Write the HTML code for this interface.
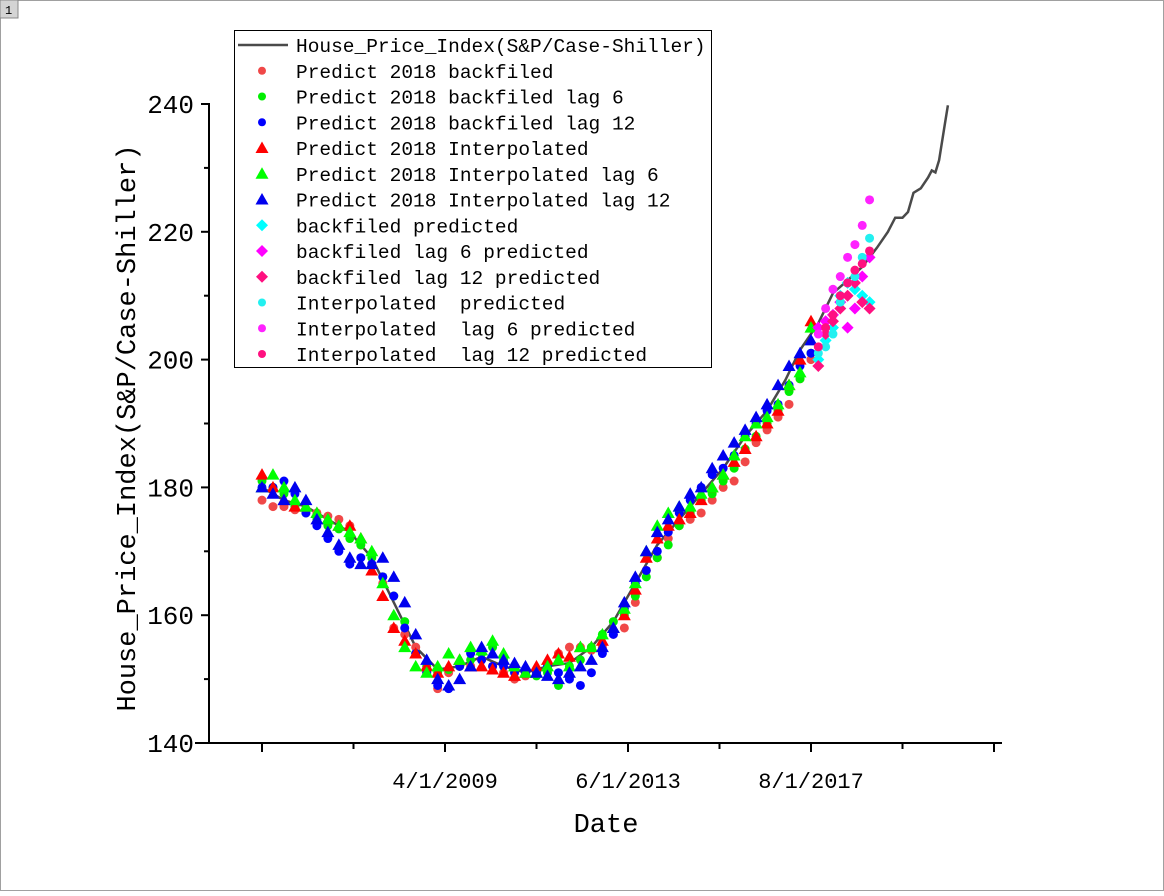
<!DOCTYPE html>
<html><head><meta charset="utf-8"><style>
html,body{margin:0;padding:0;background:#fff;}
svg text{font-family:"Liberation Mono","Noto Sans CJK SC",monospace;fill:#000;}
</style></head><body>
<svg id="chart" width="1164" height="891" xmlns="http://www.w3.org/2000/svg">
<rect x="0.5" y="0.5" width="1163" height="890" fill="#fff" stroke="#a0a0a0"/>
<rect x="0" y="0" width="18" height="18" fill="#d4d4d4" stroke="#888"/>
<text x="5" y="14" font-size="12">1</text>
<g id="plot"></g>
<g id="axes"></g>
<g id="legend"></g>
</svg>
<script>
const monthsBase=[0,3,6,9,12,15,18,21,24,27,30,33,36,39,42,45,48,51,54,57,60,63,66,69,72,75,78,81,84,87,90,93,96,99,102,105,108,111,114,117,120,123,126,129,132,135,138,141,144,147,150];
const s1=[178,177,177,176.5,176.5,176,175.5,175,174,171,168,165,158,157,155,151,148.5,151,152,152,153,152,151,150,150.5,151,152,154,155,155,154.5,155,157,158,162,167,169,172,174,175,176,178,180,181,184,187,189,191,193,197,200];
const s2=[181,180,179,177,176,175,174,173.5,172,171,169,166,163,159,154,152,151,151.5,152,153,154,155,153,152,151,150.5,151,149,152,153,155,157,159,160,163,166,169,171,174,176,178,179,181,183,186,188,190,192,195,197,201];
const s3=[180,180,181,179,176,174,172,170,168,169,168,166,163,158,154,151,149,148.5,152,154,153,152,152,151,151,151,152,151,150,149,151,154,157,161,165,167,170,173,176,178,180,182,183,185,188,190,192,193,196,199,201];
const s4=[182,180,178,177,177,176,175,174,174,172,167,163,158,156,154,152,151,152,153,152,152,151.5,151,150.5,151,152,153,154,153.5,155,155,156,158,160,164,169,172,174,175,176,178,180,182,184,186,188,190,192,196,200,206];
const s5=[180,182,180,178,177,176,175,174,173,172,170,165,160,155,152,151,152,154,153,155,154.5,156,154,152,151,151,152,153,152,155,155,157,158,161,165,170,174,176,177,177,179,180,182,185,188,190,191,193,196,198,205];
const s6=[180,179,178,180,178,175,173,171,169,168,168,169,166,162,157,153,150,149,150,152,155,154,153,152.5,152,151,150.5,150,151,152,153,155,158,162,166,170,173,175,177,179,180,183,185,187,189,191,193,196,199,201,203];
const monthsPred=[152,154,156,158,160,162,164,166];
const p1=[200,203,205,210,212,211,210,209];
const p2=[205,206,207,209,205,208,213,216];
const p3=[199,204,206,208,210,212,209,208];
const p4=[201,202,204,209,212,213,216,219];
const p5=[204,208,211,213,216,218,221,225];
const p6=[202,205,207,210,212,214,215,217];
const lineMonths=[0,6,12,18,24,30,36,42,48,54,60,66,72,78,84,90,96,102,108,114,120,126,132,138,143,147,152,156,160,164,168,171,173,175,176.5,178,180,182,183,184,185,186.6,187.4];
const lineValues=[180,178,177,175,173,169,162,155,151.5,152,153.5,152,151,152,152.5,155,159,165,171,175,179,183,188,192,196.8,201.5,205.7,210.4,212.4,214.5,217.5,220,222.2,222.2,223.1,226.1,226.8,228.5,229.6,229.3,231.2,237,239.8];
const yTicks=[140,160,180,200,220,240];
const xTickLabels=["4/1/2009","6/1/2013","8/1/2017"];
const xTickMonths=[50,100,150];

const NS="http://www.w3.org/2000/svg";
function X(m){return 262+m*3.66;}
function Y(v){return 743-(v-140)*6.39;}
function mk(tag,attrs,parent){const e=document.createElementNS(NS,tag);for(const k in attrs)e.setAttribute(k,attrs[k]);parent.appendChild(e);return e;}
const plot=document.getElementById('plot'),axes=document.getElementById('axes'),legend=document.getElementById('legend');

function marker(shape,color,x,y,parent,name){
  let e;
  if(shape==='circle'){e=mk('circle',{cx:x,cy:y,r:4.5,fill:color},parent);}
  else if(shape==='tri'){e=mk('polygon',{points:`${x},${y-6.5} ${x-6.5},${y+5} ${x+6.5},${y+5}`,fill:color},parent);}
  else {e=mk('polygon',{points:`${x},${y-6} ${x+6},${y} ${x},${y+6} ${x-6},${y}`,fill:color},parent);}
  
  
  return e;
}
let d='';lineMonths.forEach((m,i)=>{d+=(i?'L':'M')+X(m).toFixed(1)+','+Y(lineValues[i]).toFixed(1);});
const ln=mk('path',{d:d,fill:'none',stroke:'#4a4a4a','stroke-width':2.5},plot);



const series=[
 ['circle','#f04848',monthsBase,s1,'backfiled-point'],
 ['circle','#00ee00',monthsBase,s2,'backfiled-lag6-point'],
 ['circle','#0000ff',monthsBase,s3,'backfiled-lag12-point'],
 ['tri','#ff0000',monthsBase,s4,'interpolated-point'],
 ['tri','#00ff00',monthsBase,s5,'interpolated-lag6-point'],
 ['tri','#0000ee',monthsBase,s6,'interpolated-lag12-point'],
 ['diamond','#00ffff',monthsPred,p1,'backfiled-predicted-point'],
 ['diamond','#ff00ff',monthsPred,p2,'backfiled-lag6-predicted-point'],
 ['diamond','#ff1080',monthsPred,p3,'backfiled-lag12-predicted-point'],
 ['circle','#22f0f0',monthsPred,p4,'interpolated-predicted-point'],
 ['circle','#ff22ff',monthsPred,p5,'interpolated-lag6-predicted-point'],
 ['circle','#ff1080',monthsPred,p6,'interpolated-lag12-predicted-point']
];
series.forEach(s=>{s[2].forEach((m,i)=>marker(s[0],s[1],X(m),Y(s[3][i]),plot,s[4]));});

let a=mk('line',{x1:209,y1:103,x2:209,y2:743,stroke:'#000','stroke-width':2},axes);

a=mk('line',{x1:195,y1:743,x2:1002,y2:743,stroke:'#000','stroke-width':2},axes);

yTicks.forEach(v=>{
  mk('line',{x1:201,y1:Y(v),x2:209,y2:Y(v),stroke:'#000','stroke-width':2},axes);
  if(v<240) mk('line',{x1:204,y1:Y(v+10),x2:209,y2:Y(v+10),stroke:'#000','stroke-width':2},axes);
  const t=mk('text',{x:194,y:Y(v)+9,'font-size':26,'text-anchor':'end'},axes);t.textContent=v;
  
});
for(let m=0;m<=200;m+=25){
  const maj=m%50===0;
  mk('line',{x1:X(m),y1:743,x2:X(m),y2:maj?752:749,stroke:'#000','stroke-width':2},axes);
}
xTickMonths.forEach((m,i)=>{
  const t=mk('text',{x:X(m),y:788,'font-size':22,'text-anchor':'middle'},axes);t.textContent=xTickLabels[i];
  
});
let t=mk('text',{x:606,y:832,'font-size':27,'text-anchor':'middle'},axes);t.textContent='Date';

t=mk('text',{x:0,y:0,'font-size':27,'text-anchor':'middle',transform:'translate(135,428) rotate(-90)'},axes);t.textContent='House_Price_Index(S&P/Case-Shiller)';


const lb=mk('rect',{x:234.5,y:30.5,width:477,height:337,fill:'#fff',stroke:'#000','stroke-width':1},legend);

const labels=['House_Price_Index(S&P/Case-Shiller)','Predict 2018 backfiled','Predict 2018 backfiled lag 6','Predict 2018 backfiled lag 12','Predict 2018 Interpolated','Predict 2018 Interpolated lag 6','Predict 2018 Interpolated lag 12','backfiled predicted','backfiled lag 6 predicted','backfiled lag 12 predicted','Interpolated  predicted','Interpolated  lag 6 predicted','Interpolated  lag 12 predicted'];
labels.forEach((lab,i)=>{
  const y=45+i*25.75;
  const g=mk('g',{},legend);
  
  if(i===0){mk('line',{x1:238,y1:y,x2:288,y2:y,stroke:'#4a4a4a','stroke-width':2.5},g);}
  else{const s=series[i-1];const mm=marker(s[0],s[1],262,y,g,'legend-marker');if(s[0]==='circle')mm.setAttribute('r',4);}
  const tx=mk('text',{x:296,y:y+7,'font-size':19.5},g);tx.textContent=lab;
  tx.style.whiteSpace='pre';
});
</script>
</body></html>
